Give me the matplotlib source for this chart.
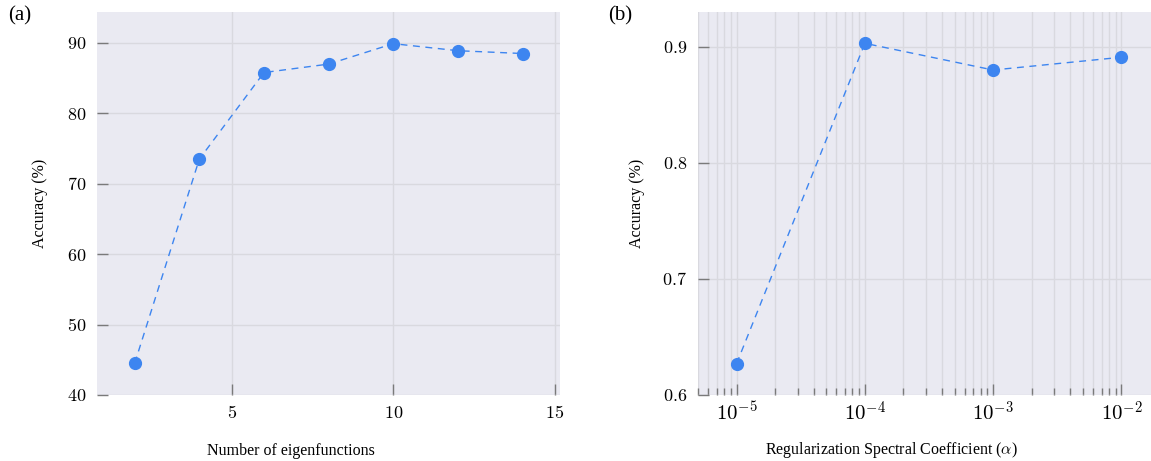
import numpy as np
import matplotlib
matplotlib.use("Agg")
import matplotlib.pyplot as plt
from matplotlib.ticker import LogLocator, NullFormatter, FuncFormatter

# Data
n_eigen = [2, 4, 6, 8, 10, 12, 14]
acc_eigen = [44.5, 73.5, 85.8, 87.0, 89.9, 88.9, 88.5]

alpha = [1e-5, 1e-4, 1e-3, 1e-2]
acc_alpha = [0.627, 0.903, 0.880, 0.891]

# Style
plt.rcParams['font.family'] = ['Liberation Serif', 'DejaVu Serif']
plt.rcParams['mathtext.fontset'] = 'cm'
bg = '#eaeaf2'
grid_col = '#d9d9df'
tick_col = '#7a7a7a'
blue = '#3d85f0'

fig = plt.figure(figsize=(11.51, 4.61), dpi=100)
ax1 = fig.add_axes([0.0847, 0.1432, 0.4022, 0.8308])
ax2 = fig.add_axes([0.6064, 0.1432, 0.3936, 0.8308])

for ax in (ax1, ax2):
    ax.set_facecolor(bg)
    for s in ax.spines.values():
        s.set_visible(False)
    ax.set_axisbelow(True)
    ax.tick_params(which='both', direction='in', color=tick_col, labelsize=13, width=1.0)
    ax.tick_params(which='major', length=8)
    ax.tick_params(axis='y', pad=8)
    ax.tick_params(axis='x', pad=7)

mathfmt = FuncFormatter(lambda v, p: r'$%g$' % v)

# Fig (a): accuracy vs number of eigenfunctions
ax1.plot(n_eigen, acc_eigen, '--', color=blue, lw=1.0, dashes=(5, 4),
         marker='o', ms=8.5, mfc=blue, mec=blue)
ax1.set_xlim(0.85, 15.17)
ax1.set_ylim(40, 94.4)
ax1.set_xticks([5, 10, 15])
ax1.set_yticks([40, 50, 60, 70, 80, 90])
ax1.xaxis.set_major_formatter(mathfmt)
ax1.yaxis.set_major_formatter(mathfmt)
ax1.grid(True, which='major', color=grid_col, lw=1.0)
ax1.set_xlabel('Number of eigenfunctions', fontsize=11.5, labelpad=15)
ax1.xaxis.label.set_x(0.418)
ax1.set_ylabel('Accuracy (%)', fontsize=11.5, labelpad=14)

# Fig (b): accuracy vs regularization coefficient
ax2.plot(alpha, acc_alpha, '--', color=blue, lw=1.0, dashes=(5, 4),
         marker='o', ms=8.5, mfc=blue, mec=blue)
ax2.set_xscale('log')
ax2.set_xlim(5e-6, 1.7e-2)
ax2.set_ylim(0.6, 0.93)
ax2.set_yticks([0.6, 0.7, 0.8, 0.9])
ax2.yaxis.set_major_formatter(FuncFormatter(lambda v, p: r'$%.1f$' % v))
ax2.xaxis.set_major_locator(LogLocator(base=10, numticks=10))
ax2.xaxis.set_major_formatter(FuncFormatter(lambda v, p: r'$10^{%d}$' % round(np.log10(v))))
ax2.xaxis.set_minor_locator(LogLocator(base=10, subs=np.arange(2, 10), numticks=10))
ax2.xaxis.set_minor_formatter(NullFormatter())
ax2.tick_params(axis='x', which='major', labelsize=15, pad=5)
ax2.tick_params(which='minor', length=5)
ax2.grid(True, which='major', color=grid_col, lw=1.0)
ax2.grid(True, which='minor', axis='x', color=grid_col, lw=1.0)
ax2.set_xlabel(r'Regularization Spectral Coefficient ($\alpha$)', fontsize=11.5, labelpad=10)
ax2.xaxis.label.set_x(0.426)
ax2.set_ylabel('Accuracy (%)', fontsize=11.5, labelpad=12)

# Panel letters
fig.text(0.007, 0.965, '(a)', fontsize=15, va='center', ha='left')
fig.text(0.528, 0.965, '(b)', fontsize=15, va='center', ha='left')

fig.savefig('out.png', dpi=100)
